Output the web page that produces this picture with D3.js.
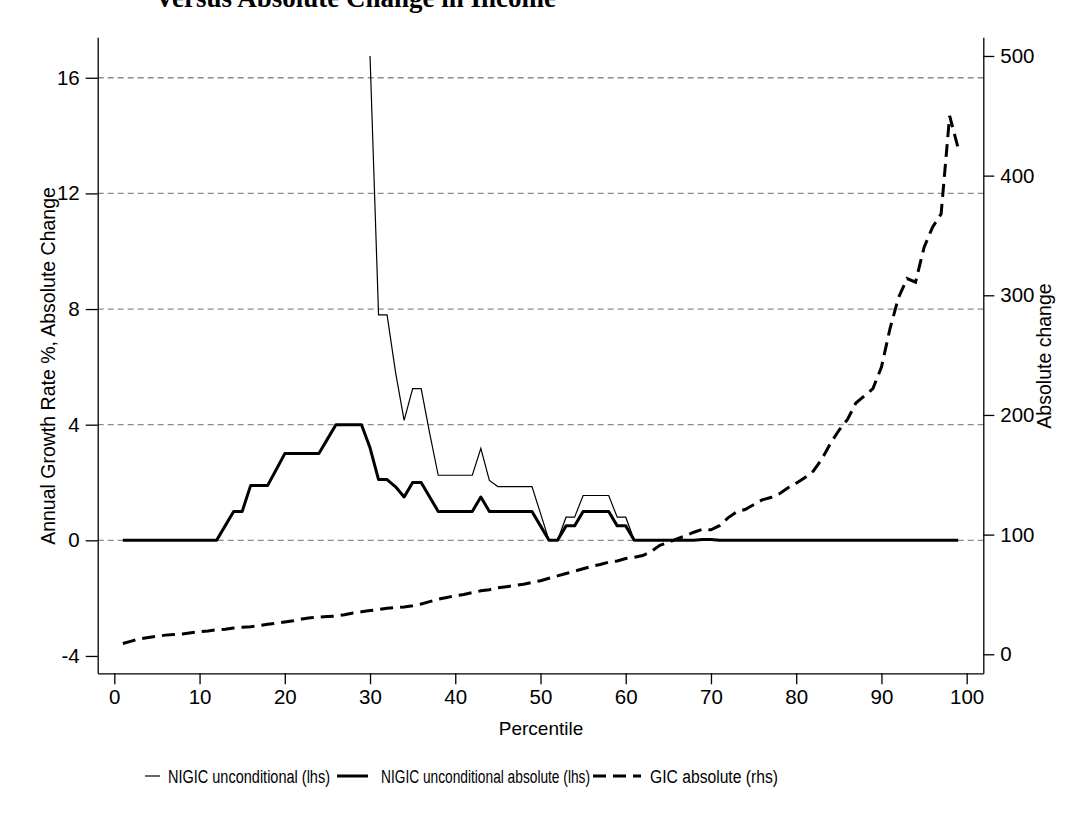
<!DOCTYPE html>
<html>
<head>
<meta charset="utf-8">
<script src="https://cdn.jsdelivr.net/npm/d3@7"></script>
<style>
  html, body { margin: 0; padding: 0; background: #fff; }
  svg { display: block; }
</style>
</head>
<body>
<svg id="chart" width="1079" height="838"></svg>
<script>
// ---------------- DATA ----------------
const titleText = "Versus Absolute Change in Income";
const percentiles = [1,2,3,4,5,6,7,8,9,10,11,12,13,14,15,16,17,18,19,20,21,22,23,24,25,26,27,28,29,30,
  31,32,33,34,35,36,37,38,39,40,41,42,43,44,45,46,47,48,49,50,51,52,53,54,55,56,57,58,59,60,
  61,62,63,64,65,66,67,68,69,70,71,72,73,74,75,76,77,78,79,80,81,82,83,84,85,86,87,88,89,90,
  91,92,93,94,95,96,97,98,99];

// NIGIC unconditional (lhs) - thin line, starts at percentile 30
const nigicUncond = [null,null,null,null,null,null,null,null,null,null,null,null,null,null,null,
  null,null,null,null,null,null,null,null,null,null,null,null,null,null,
  16.75,7.8,7.8,5.8,4.15,5.25,5.25,3.7,2.25,2.25,2.25,2.25,2.25,3.18,2.07,1.86,1.86,1.86,1.86,1.86,
  0.93,0,0,0.8,0.8,1.55,1.55,1.55,1.55,0.8,0.8,0,0,0,0,0,0,0,0,0.03,0.03,
  0,0,0,0,0,0,0,0,0,0,0,0,0,0,0,0,0,0,0,0,0,0,0,0,0,0,0,0,0];

// NIGIC unconditional absolute (lhs) - thick line
const nigicAbs = [0,0,0,0,0,0,0,0,0,0,0,0,0.5,1,1,1.9,1.9,1.9,2.45,3,3,3,3,3,3.5,4,4,4,4,
  3.2,2.1,2.1,1.85,1.5,2,2,1.5,1,1,1,1,1,1.5,1,1,1,1,1,1,
  0.5,0,0,0.5,0.5,1,1,1,1,0.5,0.5,0,0,0,0,0,0,0,0,0.03,0.03,
  0,0,0,0,0,0,0,0,0,0,0,0,0,0,0,0,0,0,0,0,0,0,0,0,0,0,0,0,0];

// GIC absolute (rhs) - dashed line
const gicAbs = [9,11,13,14,15,16,16.5,17,18,19,19.5,20.5,21,22,22.5,23,24,25,26,27,
  28,29.5,30.5,31,31.5,32,33,34.5,35.5,36.5,37.5,38.5,39,39.5,40.5,42,44,46,47.5,49,
  50,51.5,53,54,55.5,56.5,57.5,58.5,60,61.5,63.5,65.5,67.5,69.5,71.5,73.5,75,77,78,80,
  81,82.5,86,91,93.5,96.5,99,102,104.5,104,107.5,114,119,121,125,129,131,134,139,143,
  147.5,153,163,176,187,196,210,216,222,240,272,298,314,311,340,357,368,450,423];

const xTicks = [0,10,20,30,40,50,60,70,80,90,100];
const yLeftTicks = [-4,0,4,8,12,16];
const yLeftGrid = [0,4,8,12,16];
const yRightTicks = [0,100,200,300,400,500];

const xLabel = "Percentile";
const yLeftLabel = "Annual Growth Rate %, Absolute Change";
const yRightLabel = "Absolute change";
const legendLabels = ["NIGIC unconditional (lhs)", "NIGIC unconditional absolute (lhs)", "GIC absolute (rhs)"];

// ---------------- CHART ----------------
const svg = d3.select("#chart");
const FONT = "'Liberation Sans', Arial, Helvetica, sans-serif";
const plot = { left: 97.7, right: 983.3, top: 37.3, bottom: 673.3 };

const x = d3.scaleLinear().domain([-1.95, 101.95]).range([plot.left, plot.right]);
const yL = d3.scaleLinear().domain([-4.6, 17.4]).range([plot.bottom, plot.top]);
const yR = d3.scaleLinear().domain([-15.9, 515.6]).range([plot.bottom, plot.top]);

// Title (clipped at top, as in reference)
svg.append("text")
  .attr("x", 155).attr("y", 7)
  .attr("font-family", "'Liberation Serif', 'Times New Roman', serif")
  .attr("font-weight", "bold")
  .attr("font-size", 27)
  .attr("fill", "#000")
  .text(titleText);

// Grid lines
svg.append("g").selectAll("line").data(yLeftGrid).join("line")
  .attr("x1", plot.left).attr("x2", plot.right)
  .attr("y1", d => yL(d)).attr("y2", d => yL(d))
  .attr("stroke", "#8c8c8c").attr("stroke-width", 1.3)
  .attr("stroke-dasharray", "6,4");

// Axes
const axisStyle = g => {
  g.selectAll("path.domain").attr("stroke", "#000").attr("stroke-width", 1.3);
  g.selectAll(".tick line").attr("stroke", "#000").attr("stroke-width", 1.3);
  g.selectAll(".tick text").attr("font-family", FONT).attr("font-size", 20.5).attr("fill", "#000");
};
const fmt = d => String(d);

svg.append("g")
  .attr("transform", `translate(0,${plot.bottom})`)
  .call(d3.axisBottom(x).tickValues(xTicks).tickFormat(fmt).tickSize(11).tickPadding(5).tickSizeOuter(0))
  .call(axisStyle);

svg.append("g")
  .attr("transform", `translate(${plot.left},0)`)
  .call(d3.axisLeft(yL).tickValues(yLeftTicks).tickFormat(fmt).tickSize(12).tickPadding(6).tickSizeOuter(0))
  .call(axisStyle);

svg.append("g")
  .attr("transform", `translate(${plot.right},0)`)
  .call(d3.axisRight(yR).tickValues(yRightTicks).tickFormat(fmt).tickSize(11).tickPadding(6).tickSizeOuter(0))
  .call(axisStyle);

// Axis titles
svg.append("text")
  .attr("x", 541).attr("y", 735)
  .attr("text-anchor", "middle")
  .attr("font-family", FONT).attr("font-size", 19)
  .text(xLabel);

svg.append("text")
  .attr("transform", `translate(55,366) rotate(-90)`)
  .attr("text-anchor", "middle")
  .attr("font-family", FONT).attr("font-size", 19.5)
  .text(yLeftLabel);

svg.append("text")
  .attr("transform", `translate(1051,356) rotate(-90)`)
  .attr("text-anchor", "middle")
  .attr("font-family", FONT).attr("font-size", 19.5)
  .text(yRightLabel);

// Lines
const rows = percentiles.map((p, i) => ({ p, thin: nigicUncond[i], thick: nigicAbs[i], gic: gicAbs[i] }));

const lineThin = d3.line().defined(d => d.thin !== null).x(d => x(d.p)).y(d => yL(d.thin));
const lineThick = d3.line().x(d => x(d.p)).y(d => yL(d.thick));
const lineGic = d3.line().x(d => x(d.p)).y(d => yR(d.gic));

svg.append("path").datum(rows)
  .attr("d", lineGic).attr("fill", "none").attr("stroke", "#000")
  .attr("stroke-width", 3).attr("stroke-dasharray", "13,7");

svg.append("path").datum(rows)
  .attr("d", lineThick).attr("fill", "none").attr("stroke", "#000")
  .attr("stroke-width", 3).attr("stroke-linejoin", "round");

svg.append("path").datum(rows)
  .attr("d", lineThin).attr("fill", "none").attr("stroke", "#000")
  .attr("stroke-width", 1.2);

// Legend
const legendY = 776;
const legendItems = [
  { label: legendLabels[0], x1: 145, x2: 160, tx: 168, len: 162, w: 1.2, dash: null },
  { label: legendLabels[1], x1: 337, x2: 368, tx: 381, len: 209, w: 3, dash: null },
  { label: legendLabels[2], x1: 593, x2: 641, tx: 650, len: 128, w: 3, dash: "13,7" }
];
const lg = svg.append("g");
legendItems.forEach(it => {
  lg.append("line")
    .attr("x1", it.x1).attr("x2", it.x2)
    .attr("y1", legendY).attr("y2", legendY)
    .attr("stroke", "#000").attr("stroke-width", it.w)
    .attr("stroke-dasharray", it.dash);
  lg.append("text")
    .attr("x", it.tx).attr("y", legendY + 6.5)
    .attr("font-family", FONT).attr("font-size", 18)
    .attr("textLength", it.len).attr("lengthAdjust", "spacingAndGlyphs")
    .text(it.label);
});
</script>
</body>
</html>
